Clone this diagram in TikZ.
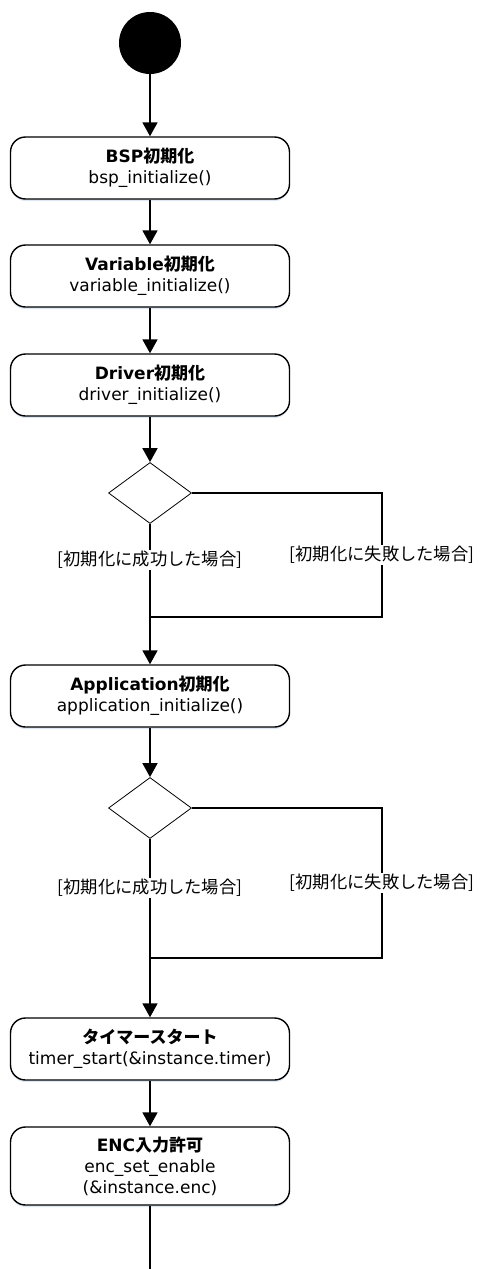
\documentclass[tikz,border=0pt]{standalone}
\usepackage{fontspec}
\setmainfont{DejaVu Sans}
\newfontfamily\jp{Noto Sans CJK JP}
\usetikzlibrary{arrows.meta,shapes.geometric,shadows}

\tikzset{
    act/.style={draw, line width=1.4pt, rounded corners=15pt, fill=white,
        minimum width=279pt, minimum height=62pt, align=center,
        font=\fontsize{17}{21}\selectfont,
        drop shadow={shadow xshift=0pt, shadow yshift=-2pt, fill=cyan!40!blue, opacity=0.15}},
    dec/.style={draw, diamond, line width=0.8pt, inner sep=0pt, minimum width=83pt, minimum height=61pt},
    flow/.style={line width=1.8pt, -{Triangle[width=15pt,length=14pt]}},
    branch/.style={line width=1.6pt},
    guard/.style={fill=white, inner sep=1.5pt, font=\fontsize{17.3}{20}\selectfont\jp}
}

\begin{document}
\begin{tikzpicture}[x=1pt, y=-1pt]
    \useasboundingbox (0,0) rectangle (480,1269);

    % nodes
    \node[circle, fill=black, minimum size=62pt, inner sep=0pt] (start) at (150,43) {};
    \node[act] (bsp) at (150,168) {\textbf{BSP{\jp 初期化}}\\bsp\_initialize()};
    \node[act] (var) at (150,276) {\textbf{Variable{\jp 初期化}}\\variable\_initialize()};
    \node[act] (drv) at (150,385) {\textbf{Driver{\jp 初期化}}\\driver\_initialize()};
    \node[dec] (d1) at (150,493) {};
    \node[act] (app) at (150,696) {\textbf{Application{\jp 初期化}}\\application\_initialize()};
    \node[dec] (d2) at (150,808) {};
    \node[act] (tmr) at (150,1049) {\textbf{\jp タイマースタート}\\timer\_start(\&instance.timer)};
    \node[act, minimum height=78pt] (enc) at (150,1166) {\textbf{ENC{\jp 入力許可}}\\enc\_set\_enable\\(\&instance.enc)};

    % corners of the branches
    \coordinate (r1) at (382,617);
    \coordinate (m1) at (150,617);
    \coordinate (r2) at (382,958);
    \coordinate (m2) at (150,958);
    \coordinate (stop) at (150,1269);

    % draw flow
    \draw[flow] (start) -- (bsp);
    \draw[flow] (bsp) -- (var);
    \draw[flow] (var) -- (drv);
    \draw[flow] (drv) -- (d1);
    \draw[flow] (d1) -- (app);
    \draw[branch] (d1.east) -| (r1) -- (m1);
    \draw[flow] (app) -- (d2);
    \draw[flow] (d2) -- (tmr);
    \draw[branch] (d2.east) -| (r2) -- (m2);
    \draw[flow] (tmr) -- (enc);
    \draw[line width=1.8pt] (enc) -- (stop);

    % labels
    \node[guard] (ok1) at (150,560) {[初期化に成功した場合]};
    \node[guard] (ng1) at (382,555) {[初期化に失敗した場合]};
    \node[guard] (ok2) at (150,888) {[初期化に成功した場合]};
    \node[guard] (ng2) at (382,883) {[初期化に失敗した場合]};
\end{tikzpicture}
\end{document}
